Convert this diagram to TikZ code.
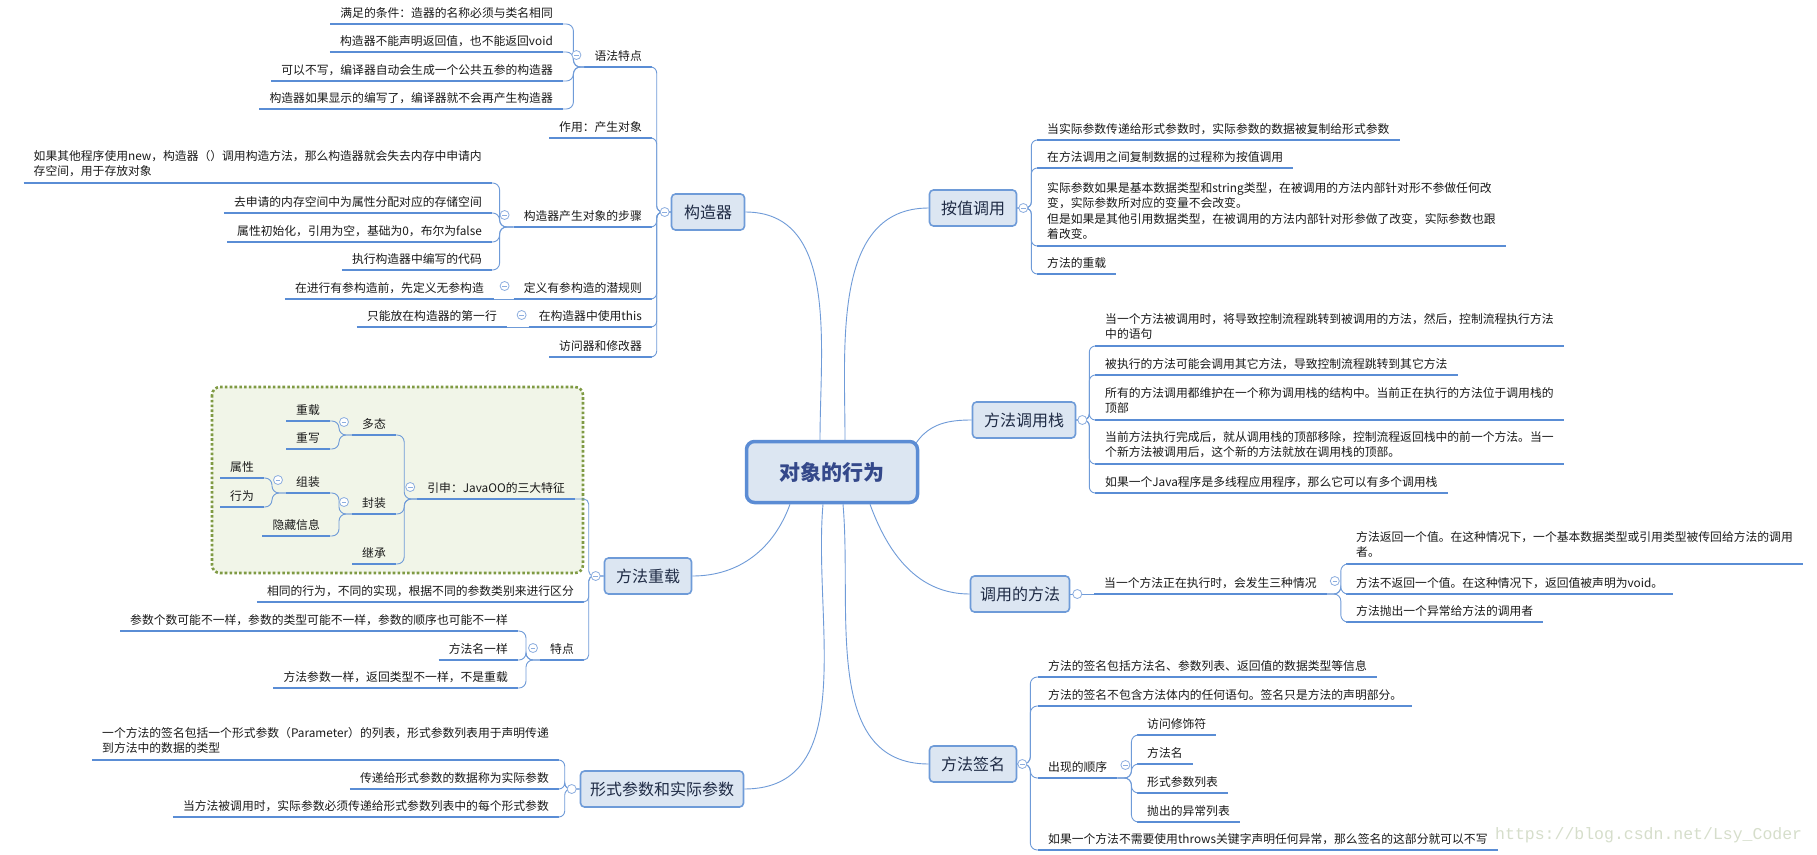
\documentclass[tikz,border=0pt]{standalone}
\usepackage{fontspec}
\setmainfont{Noto Sans CJK SC}
\newfontfamily\wmfont{Liberation Mono}
\usetikzlibrary{calc}
\definecolor{connc}{HTML}{6F9BD8}
\definecolor{ulc}{HTML}{5A8DD5}
\definecolor{boxc}{HTML}{6E9BD8}
\definecolor{boxfill}{HTML}{DCE6F2}
\definecolor{mainc}{HTML}{5B8CD4}
\definecolor{maintext}{HTML}{34488A}
\definecolor{branchtext}{HTML}{1F2B45}
\definecolor{togc}{HTML}{8DAEDF}
\definecolor{olivec}{HTML}{7F9A43}
\definecolor{olivefill}{HTML}{F1F5E8}
\definecolor{wmc}{HTML}{D6DECB}
\definecolor{leaftext}{HTML}{1A1A1A}
\newcommand\leaffont{\fontsize{11.8}{15.5}\selectfont}
\newcommand\branchfont{\fontsize{16}{19}\selectfont}
\newcommand\rootfont{\fontsize{21}{25}\selectfont\bfseries}
\tikzset{
  conn/.style={draw=connc, line width=0.9pt},
  ulline/.style={draw=ulc, line width=2.6pt},
  leafbase/.style={font=\leaffont, text=leaftext, inner xsep=10pt,
    append after command={(\tikzlastnode.south west) edge[ulline] (\tikzlastnode.south east)}},
  one/.style={text height=10pt, text depth=2pt, inner ysep=4.5pt},
  multi/.style={align=left, inner ysep=6pt},
  lleaf/.style={leafbase, one, anchor=south east},
  rleaf/.style={leafbase, one, anchor=south west},
  lmulti/.style={leafbase, multi, anchor=south east},
  rmulti/.style={leafbase, multi, anchor=south west},
  branch/.style={draw=boxc, line width=1.6pt, fill=boxfill, rounded corners=4pt,
    font=\branchfont, text=branchtext, minimum height=36pt, inner xsep=6pt},
  rootbox/.style={draw=mainc, line width=3.5pt, fill=boxfill, rounded corners=8pt,
    font=\rootfont, text=maintext, minimum width=171pt, minimum height=61pt},
  togo/.style={circle, draw=togc, line width=0.8pt, fill=white, minimum size=9pt, inner sep=0pt},
  tog/.style={togo, path picture={\draw[togc, line width=0.8pt]
      ([xshift=-2.3pt]path picture bounding box.center) -- ([xshift=2.3pt]path picture bounding box.center);}},
}
\begin{document}
\begin{tikzpicture}[x=1pt,y=-1pt]
\fill[white] (0,0) rectangle (1817,854);
\useasboundingbox (0,0) rectangle (1817,854);

% dotted group box
\draw[draw=olivec, fill=olivefill, line width=2.6pt, dash pattern=on 2.6pt off 2.2pt, rounded corners=8pt] (212,387) rectangle (583,573);

% root and branches
\node[rootbox] (m) at (832,472) {对象的行为};
\node[branch, minimum width=73pt] (bgz) at (708,212) {构造器};
\node[branch, minimum width=87pt] (bcz) at (648,576) {方法重载};
\node[branch, minimum width=163pt] (bxs) at (662,789) {形式参数和实际参数};
\node[branch, minimum width=87pt] (baz) at (973,208) {按值调用};
\node[branch, minimum width=103pt] (bzh) at (1024,420) {方法调用栈};
\node[branch, minimum width=99pt] (bdy) at (1020,594) {调用的方法};
\node[branch, minimum width=87pt] (bqm) at (973,764) {方法签名};

% 构造器
\node[lleaf] (gz1) at (652,67) {语法特点};
\node[lleaf] (gz2) at (652,138) {作用：产生对象};
\node[lleaf] (gz3) at (652,227) {构造器产生对象的步骤};
\node[lleaf] (gz4) at (652,299) {定义有参构造的潜规则};
\node[lleaf] (gz5) at (652,327) {在构造器中使用this};
\node[lleaf] (gz6) at (652,357) {访问器和修改器};
\node[lleaf] (yf1) at (563,24) {满足的条件：造器的名称必须与类名相同};
\node[lleaf] (yf2) at (563,52) {构造器不能声明返回值，也不能返回void};
\node[lleaf] (yf3) at (563,81) {可以不写，编译器自动会生成一个公共五参的构造器};
\node[lleaf] (yf4) at (563,109) {构造器如果显示的编写了，编译器就不会再产生构造器};
\node[lmulti] (bz1) at (492,183) {如果其他程序使用new，构造器（）调用构造方法，那么构造器就会失去内存中申请内\\存空间，用于存放对象};
\node[lleaf] (bz2) at (492,213) {去申请的内存空间中为属性分配对应的存储空间};
\node[lleaf] (bz3) at (492,242) {属性初始化，引用为空，基础为0，布尔为false};
\node[lleaf] (bz4) at (492,270) {执行构造器中编写的代码};
\node[lleaf] (gq1) at (494,299) {在进行有参构造前，先定义无参构造};
\node[lleaf] (th1) at (507,327) {只能放在构造器的第一行};

% 方法重载
\node[lleaf] (cz1) at (575,499) {引申：JavaOO的三大特征};
\node[lleaf] (cz2) at (584,602) {相同的行为，不同的实现，根据不同的参数类别来进行区分};
\node[lleaf] (cz3) at (584,660) {特点};
\node[lleaf] (yx1) at (396,435) {多态};
\node[lleaf] (yx2) at (396,514) {封装};
\node[lleaf] (yx3) at (396,564) {继承};
\node[lleaf] (dt1) at (330,421) {重载};
\node[lleaf] (dt2) at (330,449) {重写};
\node[lleaf] (fz1) at (330,493) {组装};
\node[lleaf] (fz2) at (330,536) {隐藏信息};
\node[lleaf] (zz1) at (264,478) {属性};
\node[lleaf] (zz2) at (264,507) {行为};
\node[lleaf] (td1) at (518,631) {参数个数可能不一样，参数的类型可能不一样，参数的顺序也可能不一样};
\node[lleaf] (td2) at (518,660) {方法名一样};
\node[lleaf] (td3) at (518,688) {方法参数一样，返回类型不一样，不是重载};

% 形式参数和实际参数
\node[lmulti] (xs1) at (559,760) {一个方法的签名包括一个形式参数（Parameter）的列表，形式参数列表用于声明传递\\到方法中的数据的类型};
\node[lleaf] (xs2) at (559,789) {传递给形式参数的数据称为实际参数};
\node[lleaf] (xs3) at (559,817) {当方法被调用时，实际参数必须传递给形式参数列表中的每个形式参数};

% 按值调用
\node[rleaf] (az1) at (1037,140) {当实际参数传递给形式参数时，实际参数的数据被复制给形式参数};
\node[rleaf] (az2) at (1037,168) {在方法调用之间复制数据的过程称为按值调用};
\node[rmulti] (az3) at (1037,246) {实际参数如果是基本数据类型和string类型，在被调用的方法内部针对形不参做任何改\\变，实际参数所对应的变量不会改变。\\但是如果是其他引用数据类型，在被调用的方法内部针对形参做了改变，实际参数也跟\\着改变。};
\node[rleaf] (az4) at (1037,274) {方法的重载};

% 方法调用栈
\node[rmulti] (zh1) at (1095,346) {当一个方法被调用时，将导致控制流程跳转到被调用的方法，然后，控制流程执行方法\\中的语句};
\node[rleaf] (zh2) at (1095,375) {被执行的方法可能会调用其它方法，导致控制流程跳转到其它方法};
\node[rmulti] (zh3) at (1095,420) {所有的方法调用都维护在一个称为调用栈的结构中。当前正在执行的方法位于调用栈的\\顶部};
\node[rmulti] (zh4) at (1095,464) {当前方法执行完成后，就从调用栈的顶部移除，控制流程返回栈中的前一个方法。当一\\个新方法被调用后，这个新的方法就放在调用栈的顶部。};
\node[rleaf] (zh5) at (1095,493) {如果一个Java程序是多线程应用程序，那么它可以有多个调用栈};

% 调用的方法
\node[rleaf] (dy1) at (1094,594) {当一个方法正在执行时，会发生三种情况};
\node[rmulti] (dq1) at (1346,564) {方法返回一个值。在这种情况下，一个基本数据类型或引用类型被传回给方法的调用\\者。};
\node[rleaf] (dq2) at (1346,594) {方法不返回一个值。在这种情况下，返回值被声明为void。};
\node[rleaf] (dq3) at (1346,622) {方法抛出一个异常给方法的调用者};

% 方法签名
\node[rleaf] (qm1) at (1038,677) {方法的签名包括方法名、参数列表、返回值的数据类型等信息};
\node[rleaf] (qm2) at (1038,706) {方法的签名不包含方法体内的任何语句。签名只是方法的声明部分。};
\node[rleaf] (qm3) at (1038,778) {出现的顺序};
\node[rleaf] (qm4) at (1038,850) {如果一个方法不需要使用throws关键字声明任何异常，那么签名的这部分就可以不写};
\node[rleaf] (sx1) at (1137,735) {访问修饰符};
\node[rleaf] (sx2) at (1137,764) {方法名};
\node[rleaf] (sx3) at (1137,793) {形式参数列表};
\node[rleaf] (sx4) at (1137,822) {抛出的异常列表};

% watermark
\node[font=\wmfont\fontsize{16.5}{18}\selectfont, text=wmc, anchor=west, inner sep=0pt] (wm) at (1495,835) {https://blog.csdn.net/Lsy\_Coder};

% root connectors
\draw[conn] ([xshift=-12pt]m.north) to[out=90,in=0] (bgz.east);
\draw[conn] ([xshift=13pt]m.north) to[out=90,in=180] (baz.west);
\draw[conn] ([xshift=-3pt,yshift=-3pt]m.north east) to[out=55,in=180] (bzh.west);
\draw[conn] ([xshift=-42pt]m.south) to[out=-110,in=0] (bcz.east);
\draw[conn] ([xshift=-9pt]m.south) to[out=-95,in=0] (bxs.east);
\draw[conn] ([xshift=11pt]m.south) to[out=-85,in=180] (bqm.west);
\draw[conn] ([xshift=38pt]m.south) to[out=-70,in=180] (bdy.west);

% left groups
\foreach \c in {gz1,gz2,gz3,gz4,gz5,gz6}
  \draw[conn, rounded corners=6pt] (bgz.west) -- ++(-14,0) |- (\c.south east);
\foreach \c in {yf1,yf2,yf3,yf4}
  \draw[conn, rounded corners=7pt] (gz1.south west) -- ++(-11,0) |- (\c.south east);
\foreach \c in {bz1,bz2,bz3,bz4}
  \draw[conn, rounded corners=7pt] (gz3.south west) -- ++(-14,0) |- (\c.south east);
\draw[conn] (gz4.south west) -- (gq1.south east);
\draw[conn] (gz5.south west) -- (th1.south east);
\foreach \c in {cz1,cz2,cz3}
  \draw[conn, rounded corners=5pt] (bcz.west) -- ++(-15,0) |- (\c.south east);
\foreach \c in {yx1,yx2,yx3}
  \draw[conn, rounded corners=7pt] (cz1.south west) -- ++(-13,0) |- (\c.south east);
\foreach \c in {dt1,dt2}
  \draw[conn, rounded corners=7pt] (yx1.south west) -- ++(-13,0) |- (\c.south east);
\foreach \c in {fz1,fz2}
  \draw[conn, rounded corners=7pt] (yx2.south west) -- ++(-13,0) |- (\c.south east);
\foreach \c in {zz1,zz2}
  \draw[conn, rounded corners=7pt] (fz1.south west) -- ++(-14,0) |- (\c.south east);
\foreach \c in {td1,td2,td3}
  \draw[conn, rounded corners=7pt] (cz3.south west) -- ++(-14,0) |- (\c.south east);
\foreach \c in {xs1,xs2,xs3}
  \draw[conn, rounded corners=6pt] (bxs.west) -- ++(-15,0) |- (\c.south east);

% right groups
\foreach \c in {az1,az2,az3,az4}
  \draw[conn, rounded corners=6pt] (baz.east) -- ++(14,0) |- (\c.south west);
\foreach \c in {zh1,zh2,zh3,zh4,zh5}
  \draw[conn, rounded corners=6pt] (bzh.east) -- ++(13,0) |- (\c.south west);
\draw[conn] (bdy.east) -- (dy1.south west);
\foreach \c in {dq1,dq2,dq3}
  \draw[conn, rounded corners=7pt] (dy1.south east) -- ++(14,0) |- (\c.south west);
\foreach \c in {qm1,qm2,qm3,qm4}
  \draw[conn, rounded corners=7pt] (bqm.east) -- ++(13,0) |- (\c.south west);
\foreach \c in {sx1,sx2,sx3,sx4}
  \draw[conn, rounded corners=7pt] (qm3.south east) -- ++(14,0) |- (\c.south west);

% collapse toggles
\node[tog] (t1) at ($(gz1.south west)+(-8,-12)$) {};
\node[tog] (t2) at ($(gz3.south west)+(-9,-12)$) {};
\node[tog] (t3) at ($(gz4.south west)+(-9,-13)$) {};
\node[tog] (t4) at ($(gz5.south west)+(-7,-12)$) {};
\node[tog] (t5) at ($(cz1.south west)+(-7,-12)$) {};
\node[tog] (t6) at ($(yx1.south west)+(-8,-13)$) {};
\node[tog] (t7) at ($(yx2.south west)+(-8,-12)$) {};
\node[tog] (t8) at ($(fz1.south west)+(-8,-13)$) {};
\node[tog] (t9) at ($(cz3.south west)+(-7,-12)$) {};
\node[tog] (t10) at ($(dy1.south east)+(8,-13)$) {};
\node[tog] (t11) at ($(qm3.south east)+(8,-13)$) {};
\node[tog] (t12) at ($(bgz.west)+(-6,0)$) {};
\node[tog] (t13) at ($(bcz.west)+(-8,0)$) {};
\node[togo] (t14) at ($(bxs.west)+(-8,0)$) {};
\node[tog] (t15) at ($(baz.east)+(6,0)$) {};
\node[togo] (t16) at ($(bzh.east)+(6,0)$) {};
\node[togo] (t17) at ($(bdy.east)+(7,0)$) {};
\node[tog] (t18) at ($(bqm.east)+(5,0)$) {};
\end{tikzpicture}
\end{document}
